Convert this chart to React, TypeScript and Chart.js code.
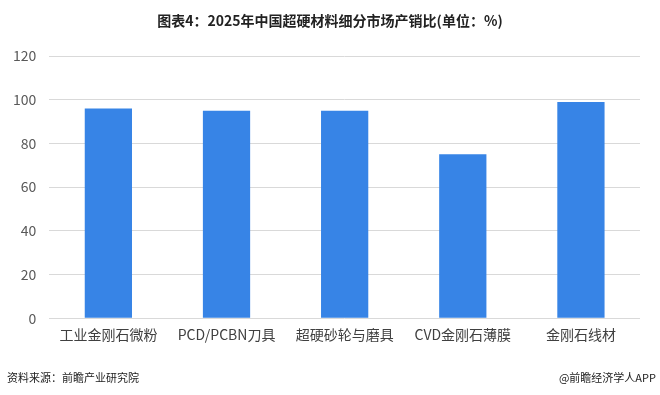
import React, { useEffect, useRef } from "react";
import { Chart, registerables } from "chart.js";

Chart.register(...registerables);

const categories = ["工业金刚石微粉", "PCD/PCBN刀具", "超硬砂轮与磨具", "CVD金刚石薄膜", "金刚石线材"];
const values = [96, 95, 95, 75, 99];
const yTicks = [0, 20, 40, 60, 80, 100, 120];
const titleText = "图表4：2025年中国超硬材料细分市场产销比(单位：%)";
const sourceText = "资料来源：前瞻产业研究院";
const brandText = "@前瞻经济学人APP";

const FONT = "'Noto Sans CJK SC', 'Noto Sans', sans-serif";

export default function App() {
  const ref = useRef<HTMLCanvasElement | null>(null);

  useEffect(() => {
    document.body.style.margin = "0";
    const ctx = ref.current!.getContext("2d")!;
    const chart = new Chart(ctx, {
      type: "bar",
      data: {
        labels: categories,
        datasets: [
          {
            data: values,
            backgroundColor: "#3784e6",
            barPercentage: 0.4,
            categoryPercentage: 1,
          },
        ],
      },
      options: {
        animation: false,
        responsive: false,
        maintainAspectRatio: false,
        layout: { padding: { left: 0, right: 20, top: 56, bottom: 44 } },
        plugins: {
          legend: { display: false },
          tooltip: { enabled: false },
          title: { display: false },
        },
        scales: {
          x: {
            grid: { display: false, drawTicks: false },
            border: { display: false },
            ticks: {
              color: "#404040",
              font: { family: FONT, size: 14 },
              padding: 8,
              maxRotation: 0,
              autoSkip: false,
            },
          },
          y: {
            min: 0,
            max: 120,
            afterBuildTicks: (axis: any) => {
              axis.ticks = yTicks.map((v) => ({ value: v }));
            },
            grid: { color: "#d9d9d9", drawTicks: false, lineWidth: 1 },
            border: { display: false },
            ticks: {
              color: "#595959",
              font: { family: FONT, size: 14 },
              padding: 13,
            },
          },
        },
      },
    });
    return () => chart.destroy();
  }, []);

  return (
    <div style={{ position: "relative", width: 660, height: 395, background: "#fff", overflow: "hidden" }}>
      <canvas ref={ref} width={660} height={395} style={{ position: "absolute", left: 0, top: 0 }} />
      <div
        style={{
          position: "absolute",
          left: 0,
          width: 660,
          top: 10,
          textAlign: "center",
          fontFamily: FONT,
          fontSize: 14,
          fontWeight: "bold",
          lineHeight: "20px",
          color: "#222",
        }}
      >
        {titleText}
      </div>
      <span
        style={{
          position: "absolute",
          left: 7,
          top: 369,
          fontFamily: FONT,
          fontSize: 11,
          color: "#222",
        }}
      >
        {sourceText}
      </span>
      <span
        style={{
          position: "absolute",
          right: 4,
          top: 369,
          fontFamily: FONT,
          fontSize: 11,
          color: "#222",
        }}
      >
        {brandText}
      </span>
    </div>
  );
}
